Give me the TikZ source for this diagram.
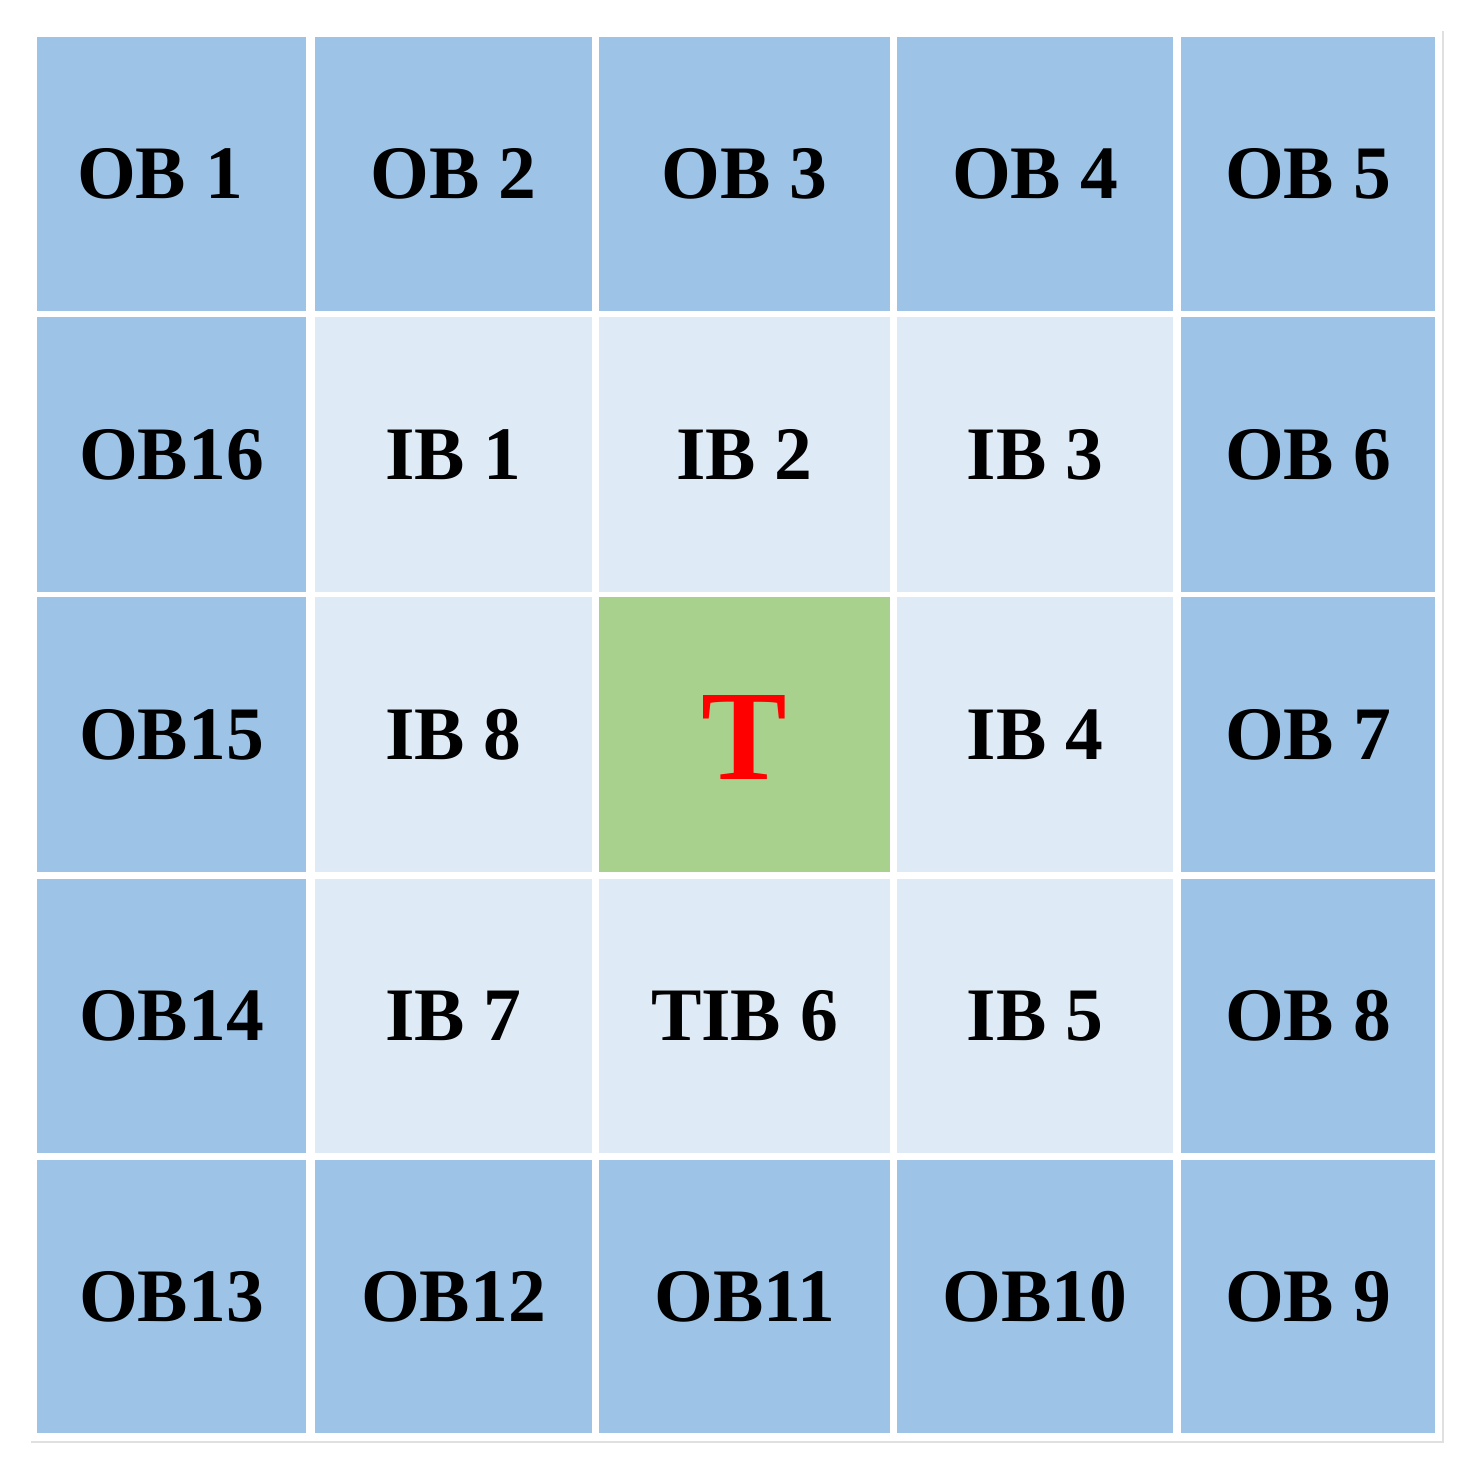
\documentclass[tikz,border=0pt]{standalone}
\usepackage{fontspec}
\setmainfont{Liberation Serif}
\definecolor{outerblue}{HTML}{9DC3E6}
\definecolor{innerblue}{HTML}{DEEBF7}
\definecolor{targetgreen}{HTML}{A9D18E}
\tikzset{
  outercell/.style={fill=outerblue},
  innercell/.style={fill=innerblue},
  targetcell/.style={fill=targetgreen},
  blocklabel/.style={font=\bfseries\fontsize{43}{50}\selectfont, text=black},
  targetlabel/.style={font=\bfseries\fontsize{73}{80}\selectfont, text=red}
}
\begin{document}
\begin{tikzpicture}[x=0.02cm, y=-0.02cm]

  \useasboundingbox (0,0) rectangle (1479,1473);

  %% frame
  \draw[black!12, line width=0.6] (31,1442) -- (1443,1442) -- (1443,31);

  %% outer ring, top
  \fill[outercell] (37,37) rectangle (306,311);
  \fill[outercell] (315,37) rectangle (592,311);
  \fill[outercell] (599,37) rectangle (890,311);
  \fill[outercell] (897,37) rectangle (1173,311);
  \fill[outercell] (1181,37) rectangle (1435,311);

  %% outer ring, sides
  \fill[outercell] (37,317) rectangle (306,592);
  \fill[outercell] (37,597) rectangle (306,872);
  \fill[outercell] (37,879) rectangle (306,1153);
  \fill[outercell] (1181,317) rectangle (1435,592);
  \fill[outercell] (1181,597) rectangle (1435,872);
  \fill[outercell] (1181,879) rectangle (1435,1153);

  %% outer ring, bottom
  \fill[outercell] (37,1160) rectangle (306,1433);
  \fill[outercell] (315,1160) rectangle (592,1433);
  \fill[outercell] (599,1160) rectangle (890,1433);
  \fill[outercell] (897,1160) rectangle (1173,1433);
  \fill[outercell] (1181,1160) rectangle (1435,1433);

  %% inner ring
  \fill[innercell] (315,317) rectangle (592,592);
  \fill[innercell] (599,317) rectangle (890,592);
  \fill[innercell] (897,317) rectangle (1173,592);
  \fill[innercell] (315,597) rectangle (592,872);
  \fill[innercell] (897,597) rectangle (1173,872);
  \fill[innercell] (315,879) rectangle (592,1153);
  \fill[innercell] (599,879) rectangle (890,1153);
  \fill[innercell] (897,879) rectangle (1173,1153);

  %% target
  \fill[targetcell] (599,597) rectangle (890,872);

  % labels
  \node[blocklabel] (ob1) at (160,174) {OB 1};
  \node[blocklabel] (ob2) at (453.5,174) {OB 2};
  \node[blocklabel] (ob3) at (744.5,174) {OB 3};
  \node[blocklabel] (ob4) at (1035,174) {OB 4};
  \node[blocklabel] (ob5) at (1308,174) {OB 5};

  \node[blocklabel] (ob16) at (171.5,454.5) {OB16};
  \node[blocklabel] (ib1) at (453.5,454.5) {IB 1};
  \node[blocklabel] (ib2) at (744.5,454.5) {IB 2};
  \node[blocklabel] (ib3) at (1035,454.5) {IB 3};
  \node[blocklabel] (ob6) at (1308,454.5) {OB 6};

  \node[blocklabel] (ob15) at (171.5,734.5) {OB15};
  \node[blocklabel] (ib8) at (453.5,734.5) {IB 8};
  \node[targetlabel] (tgt) at (744.5,737) {T};
  \node[blocklabel] (ib4) at (1035,734.5) {IB 4};
  \node[blocklabel] (ob7) at (1308,734.5) {OB 7};

  \node[blocklabel] (ob14) at (171.5,1016) {OB14};
  \node[blocklabel] (ib7) at (453.5,1016) {IB 7};
  \node[blocklabel] (tib6) at (744.5,1016) {TIB 6};
  \node[blocklabel] (ib5) at (1035,1016) {IB 5};
  \node[blocklabel] (ob8) at (1308,1016) {OB 8};

  \node[blocklabel] (ob13) at (171.5,1296.5) {OB13};
  \node[blocklabel] (ob12) at (453.5,1296.5) {OB12};
  \node[blocklabel] (ob11) at (744.5,1296.5) {OB11};
  \node[blocklabel] (ob10) at (1035,1296.5) {OB10};
  \node[blocklabel] (ob9) at (1308,1296.5) {OB 9};

\end{tikzpicture}
\end{document}
